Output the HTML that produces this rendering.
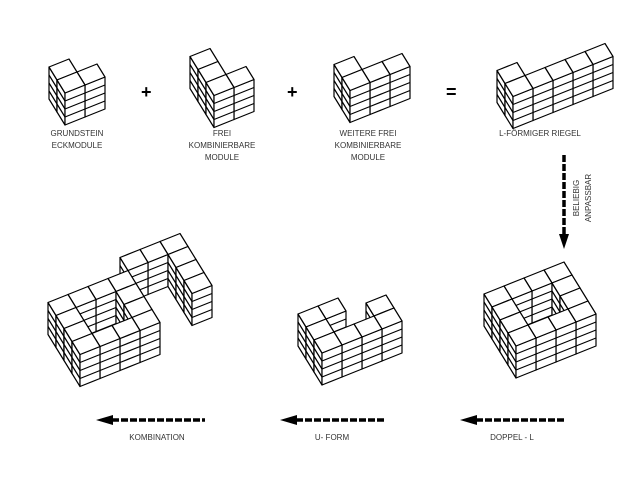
<!DOCTYPE html>
<html><head><meta charset="utf-8"><style>
html,body{margin:0;padding:0;background:#fff;width:640px;height:480px;overflow:hidden}
#c{position:absolute;left:0;top:0}
.t{position:absolute;font-family:"Liberation Sans",sans-serif;font-size:8px;color:#333;text-align:center;line-height:12px;white-space:nowrap}
.big{position:absolute;font-family:"Liberation Sans",sans-serif;font-weight:bold;font-size:18px;color:#000}
</style></head><body>
<svg id="c" width="640" height="480" xmlns="http://www.w3.org/2000/svg">
<g id="g" fill="#fff" stroke="#000" stroke-width="1.2" stroke-linejoin="round"></g>
<g stroke="#000" stroke-width="3.5" stroke-dasharray="7,2">
<line x1="564" y1="155" x2="564" y2="236"/>
<line x1="112" y1="420" x2="205" y2="420"/>
<line x1="296" y1="420" x2="385" y2="420"/>
<line x1="476" y1="420" x2="566" y2="420"/>
</g>
<g fill="#000">
<polygon points="559,234 569,234 564,249"/>
<polygon points="96,420 113,415 113,425"/>
<polygon points="280,420 297,415 297,425"/>
<polygon points="460,420 477,415 477,425"/>
</g>
</svg>
<div class="big" style="left:141px;top:82px">+</div>
<div class="big" style="left:287px;top:82px">+</div>
<div class="big" style="left:446px;top:82px">=</div>
<div class="t" style="left:37px;top:128px;width:80px">GRUNDSTEIN<br>ECKMODULE</div>
<div class="t" style="left:172px;top:128px;width:100px">FREI<br>KOMBINIERBARE<br>MODULE</div>
<div class="t" style="left:318px;top:128px;width:100px">WEITERE FREI<br>KOMBINIERBARE<br>MODULE</div>
<div class="t" style="left:490px;top:128px;width:100px">L-FÖRMIGER RIEGEL</div>
<div class="t" style="left:553px;top:186px;width:60px;transform:rotate(-90deg)">BELIEBIG<br>ANPASSBAR</div>
<div class="t" style="left:107px;top:432px;width:100px">KOMBINATION</div>
<div class="t" style="left:282px;top:432px;width:100px">U- FORM</div>
<div class="t" style="left:462px;top:432px;width:100px">DOPPEL - L</div>
<script>
var A=[20,-8],B=[8,13],H=8,F=4;
var g=document.getElementById('g');
function poly(pts){var p=document.createElementNS('http://www.w3.org/2000/svg','polygon');p.setAttribute('points',pts.map(function(q){return q[0].toFixed(1)+','+q[1].toFixed(1)}).join(' '));g.appendChild(p);}
function line(a,b){var l=document.createElementNS('http://www.w3.org/2000/svg','line');l.setAttribute('x1',a[0]);l.setAttribute('y1',a[1]);l.setAttribute('x2',b[0]);l.setAttribute('y2',b[1]);g.appendChild(l);}
function scene(cells,cx,cy){
 var P=function(a,b,z){return [a*A[0]+b*B[0],a*A[1]+b*B[1]-z*H];};
 var xs=[],ys=[];
 cells.forEach(function(c){[[0,0],[1,0],[0,1],[1,1]].forEach(function(d){[0,F].forEach(function(z){var p=P(c[0]+d[0],c[1]+d[1],z);xs.push(p[0]);ys.push(p[1]);});});});
 var ox=cx-(Math.min.apply(0,xs)+Math.max.apply(0,xs))/2, oy=cy-(Math.min.apply(0,ys)+Math.max.apply(0,ys))/2;
 var Q=function(a,b,z){var p=P(a,b,z);return [p[0]+ox,p[1]+oy];};
 cells=cells.slice().sort(function(u,v){return (u[1]-u[0])-(v[1]-v[0])||(u[1]-v[1]);});
 cells.forEach(function(c){var a=c[0],b=c[1];
  poly([Q(a,b,0),Q(a,b+1,0),Q(a,b+1,F),Q(a,b,F)]);
  for(var z=1;z<F;z++)line(Q(a,b,z),Q(a,b+1,z));
  poly([Q(a,b+1,0),Q(a+1,b+1,0),Q(a+1,b+1,F),Q(a,b+1,F)]);
  for(z=1;z<F;z++)line(Q(a,b+1,z),Q(a+1,b+1,z));
  poly([Q(a,b,F),Q(a+1,b,F),Q(a+1,b+1,F),Q(a,b+1,F)]);
 });
}
scene([[0,0],[0,1],[1,1]],77,92);
scene([[0,-1],[0,0],[0,1],[1,1]],222,88);
scene([[0,0],[0,1],[1,1],[2,1]],372,88);
scene([[0,0],[0,1],[1,1],[2,1],[3,1],[4,1]],555,86);
var ring=[[0,0],[1,0],[2,0],[3,0],[3,1],[3,2],[0,1],[0,2],[0,3],[1,3],[2,3],[3,3]];
scene(ring,540,320);
scene([[1,0],[0,0],[0,1],[0,2],[1,2],[2,2],[3,2],[3,1]],350,340);
var komb=ring.concat([[4,-1],[5,-1],[6,-1],[6,0],[6,1],[6,2]]);
scene(komb,130,310);
</script>
</body></html>
